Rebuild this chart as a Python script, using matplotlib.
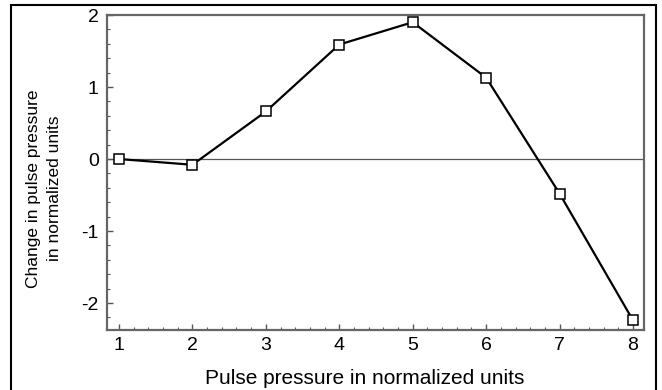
import matplotlib
matplotlib.use("Agg")
import matplotlib.pyplot as plt
from matplotlib.patches import Rectangle
from matplotlib.ticker import MultipleLocator

plt.rcParams['font.family'] = ['Liberation Sans', 'DejaVu Sans']
plt.rcParams['axes.unicode_minus'] = False

# pulse pressure steps and the resulting change
pressure = [1, 2, 3, 4, 5, 6, 7, 8]
change = [0.0, -0.08, 0.66, 1.59, 1.90, 1.13, -0.48, -2.24]

fig = plt.figure(figsize=(6.62, 3.9), dpi=100)
ax = fig.add_axes([0.1616, 0.1538, 0.8112, 0.8077])

# frame round the whole figure (bottom edge runs off the page)
fig.patches.append(Rectangle((11 / 662, -5 / 390), 645 / 662, 390 / 390,
                             transform=fig.transFigure, fill=False,
                             edgecolor='black', linewidth=1.5))

ax.axhline(0, color='#555555', linewidth=0.9, zorder=1)
ax.plot(pressure, change, color='black', linewidth=1.6, marker='s',
        markersize=7.5, markerfacecolor='white', markeredgecolor='black',
        markeredgewidth=1.1, zorder=3)

ax.set_xlim(0.836, 8.15)
ax.set_ylim(-2.375, 2.0)
ax.xaxis.set_major_locator(MultipleLocator(1))
ax.xaxis.set_minor_locator(MultipleLocator(0.2))
ax.yaxis.set_major_locator(MultipleLocator(1))
ax.yaxis.set_minor_locator(MultipleLocator(0.2))
ax.tick_params(which='both', direction='in', color='#555555', labelsize=14)
ax.tick_params(which='major', length=4, width=1)
ax.tick_params(which='minor', length=2, width=0.8)
ax.tick_params(axis='x', pad=5)
ax.tick_params(axis='y', pad=6)
for s in ax.spines.values():
    s.set_color('#666666')
    s.set_linewidth(1.6)

ax.set_xlabel('Pulse pressure in normalized units', fontsize=15)
ax.xaxis.set_label_coords(0.479, -0.125)
ax.set_ylabel('Change in pulse pressure\nin normalized units', fontsize=12.5,
              linespacing=1.55)
ax.yaxis.set_label_coords(-0.083, 0.45)

fig.savefig('out.png', dpi=100)
